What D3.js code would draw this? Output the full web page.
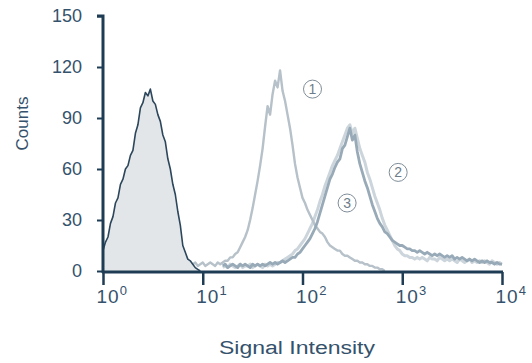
<!DOCTYPE html>
<html>
<head>
<meta charset="utf-8">
<script src="https://cdn.jsdelivr.net/npm/d3@7"></script>
<style>
  body { margin: 0; background: #fff; }
  text { font-family: "Liberation Sans", Arial, sans-serif; }
</style>
</head>
<body>
<div id="chart"></div>
<script>
// Taille de la figure
const W = 532, H = 363;
const margin = { top: 16, right: 30, bottom: 92, left: 103 };
const width = 502 - margin.left;
const height = 271 - margin.top;

// Données : histogrammes (comptes par classe, pas de 0.025 en log10)
const step = 0.025;
const yTicks = [0, 30, 60, 90, 120, 150];
const xTicks = [1, 10, 100, 1000, 10000];
const xExponents = ["0", "1", "2", "3", "4"];
const labels = ["1", "2", "3"];
const labelX = [126, 910, 280];   // position des étiquettes (intensité)
const labelY = [107, 58, 40];     // position des étiquettes (comptes)

// contrôle (rempli), début log10 = 0
const controlStart = 0;
const control = [12, 17, 20, 28, 32, 40, 43, 51, 54, 60, 62, 68, 71, 81, 86, 96, 99, 105, 103, 107,
  100, 98, 92, 88, 80, 76, 66, 60, 51, 45, 35, 27, 15, 11, 7, 6, 4, 2, 1, 0];

// courbe 1, début log10 = 0.75
const s1Start = 0.75;
const series1 = [2, 3, 4, 3, 5, 3, 4, 5, 3, 4, 5, 3, 4, 5, 4, 3, 5, 4, 5, 6,
  6, 8, 8, 10, 11, 14, 17, 20, 24, 30, 37, 45, 53, 62, 72, 85, 97, 92, 104, 112,
  108, 118, 106, 100, 92, 84, 74, 63, 55, 49, 43, 40, 36, 33, 30, 27, 25, 23, 22, 20,
  17, 15, 14, 13, 12, 12, 10, 9, 9, 8, 7, 6, 6, 5, 5, 4, 4, 3, 3, 2, 2, 1, 1, 0];

// courbe 2 (la plus claire), début log10 = 1.2
const s2Start = 1.2;
const series2 = [2, 3, 2, 4, 3, 2, 3, 4, 2, 3, 3, 4, 2, 3, 4, 3, 2, 4, 3, 4,
  3, 4, 5, 5, 6, 7, 8, 9, 10, 12, 13, 15, 17, 19, 22, 25, 28, 32, 36, 41,
  45, 50, 54, 58, 62, 65, 68, 72, 76, 80, 84, 86, 81, 84, 78, 72, 68, 64, 58, 54,
  49, 44, 40, 36, 31, 27, 24, 21, 18, 15, 13, 12, 10, 9, 9, 8, 8, 7, 8, 7,
  8, 7, 6, 8, 7, 7, 6, 8, 7, 6, 7, 6, 7, 6, 5, 7, 6, 5, 6, 7,
  5, 6, 5, 6, 5, 6, 5, 4, 6, 5, 4, 5, 4];

// courbe 3 (gris moyen), début log10 = 1.2
const s3Start = 1.2;
const series3 = [3, 4, 2, 3, 4, 3, 2, 4, 3, 4, 3, 2, 4, 3, 4, 3, 4, 3, 4, 5,
  4, 5, 4, 5, 6, 5, 6, 7, 8, 8, 10, 11, 13, 15, 17, 19, 22, 25, 29, 34,
  39, 44, 49, 54, 57, 61, 64, 66, 72, 74, 79, 84, 77, 80, 70, 63, 58, 53, 49, 44,
  39, 35, 31, 28, 26, 23, 22, 20, 18, 17, 16, 15, 15, 14, 13, 13, 12, 12, 11, 12,
  11, 10, 11, 10, 9, 10, 9, 10, 9, 8, 9, 8, 9, 7, 8, 7, 8, 7, 6, 7,
  6, 7, 6, 5, 6, 5, 6, 5, 5, 4, 5, 4, 4];

const svg = d3.select("#chart")
  .append("svg")
  .attr("width", W)
  .attr("height", H);

const x = d3.scaleLog().domain([1, 10000]).range([margin.left, margin.left + width]);
const y = d3.scaleLinear().domain([0, 150]).range([margin.top + height, margin.top]);

function toPoints(values, start) {
  return values.map((v, i) => [Math.pow(10, start + i * step), v]);
}

const line = d3.line()
  .x(d => x(d[0]))
  .y(d => y(d[1]));

const area = d3.area()
  .x(d => x(d[0]))
  .y0(y(0))
  .y1(d => y(d[1]));

// courbes (ordre : la plus claire au fond)
svg.append("path")
  .datum(toPoints(series2, s2Start))
  .attr("d", line)
  .attr("fill", "none")
  .attr("stroke", "#ccd5db")
  .attr("stroke-width", 3)
  .attr("stroke-linejoin", "round");

svg.append("path")
  .datum(toPoints(series1, s1Start))
  .attr("d", line)
  .attr("fill", "none")
  .attr("stroke", "#b6c1c9")
  .attr("stroke-width", 2.4)
  .attr("stroke-linejoin", "round");

svg.append("path")
  .datum(toPoints(series3, s3Start))
  .attr("d", line)
  .attr("fill", "none")
  .attr("stroke", "#98aab7")
  .attr("stroke-width", 2.8)
  .attr("stroke-linejoin", "round");

const ctrl = toPoints(control, controlStart);
svg.append("path")
  .datum(ctrl)
  .attr("d", area)
  .attr("fill", "#e3e6e9");

svg.append("path")
  .datum(ctrl)
  .attr("d", line)
  .attr("fill", "none")
  .attr("stroke", "#2c465b")
  .attr("stroke-width", 1.6)
  .attr("stroke-linejoin", "round");

// étiquettes cerclées
const lab = svg.append("g")
  .selectAll("g")
  .data(labels)
  .enter()
  .append("g")
  .attr("transform", (d, i) => `translate(${x(labelX[i])}, ${y(labelY[i])})`);
lab.append("circle")
  .attr("r", 9)
  .attr("fill", "#fff")
  .attr("stroke", "#7f8d98")
  .attr("stroke-width", 1);
lab.append("text")
  .attr("text-anchor", "middle")
  .attr("dy", "0.36em")
  .attr("font-size", 14)
  .attr("fill", "#6e7d89")
  .text(d => d);

// axes
const axisColor = "#1f3c55";
const textColor = "#35526c";

const yAxis = svg.append("g")
  .attr("transform", `translate(${margin.left}, 0)`)
  .call(d3.axisLeft(y).tickValues(yTicks).tickSize(6).tickPadding(15));
yAxis.select(".domain").attr("stroke", axisColor).attr("stroke-width", 3)
  .attr("d", `M-6,${y(150)}H0V${y(0) + 2}`);
yAxis.selectAll(".tick line").attr("stroke", axisColor).attr("stroke-width", 2);
yAxis.selectAll(".tick text")
  .attr("font-size", 18)
  .attr("fill", textColor);

const xAxis = svg.append("g")
  .attr("transform", `translate(0, ${y(0) + 1})`)
  .call(d3.axisBottom(x).tickValues(xTicks).tickSize(13).tickFormat(() => ""));
xAxis.select(".domain").attr("stroke", axisColor).attr("stroke-width", 3)
  .attr("d", `M${margin.left - 1},0H${margin.left + width + 1}`);
xAxis.selectAll(".tick line").attr("stroke", axisColor).attr("stroke-width", 2.5);

const xt = xAxis.selectAll(".tick text")
  .attr("font-size", 19)
  .attr("fill", textColor)
  .attr("text-anchor", "start")
  .attr("letter-spacing", 1)
  .attr("x", -7)
  .attr("y", 31)
  .attr("dy", 0);
xt.append("tspan").text("10");
xt.append("tspan")
  .attr("font-size", 13)
  .attr("dy", -8)
  .text((d, i) => xExponents[i]);

// titres des axes
svg.append("text")
  .attr("transform", `translate(28, ${y(75) - 20}) rotate(-90)`)
  .attr("text-anchor", "middle")
  .attr("font-size", 17)
  .attr("fill", textColor)
  .text("Counts");

svg.append("text")
  .attr("x", 297)
  .attr("y", 354)
  .attr("text-anchor", "middle")
  .attr("font-size", 18)
  .attr("fill", textColor)
  .attr("textLength", 156)
  .attr("lengthAdjust", "spacingAndGlyphs")
  .text("Signal Intensity");
</script>
</body>
</html>
